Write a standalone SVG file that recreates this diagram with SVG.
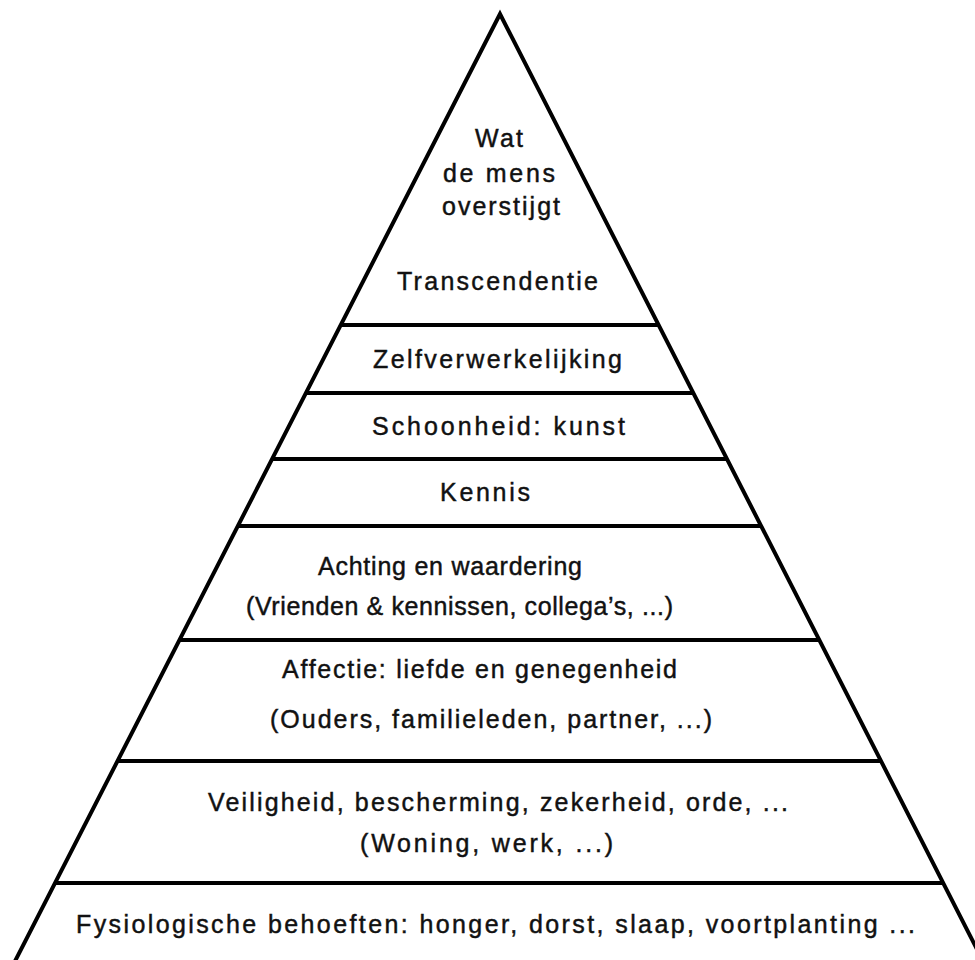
<svg xmlns="http://www.w3.org/2000/svg" width="975" height="960" viewBox="0 0 975 960">
<style>
.t{font-family:"Liberation Sans",Arial,sans-serif;font-size:25px;fill:#111;stroke:#111;stroke-width:0.45px;}
.ln{stroke:#000;stroke-width:4;fill:none;}
</style>
<rect width="975" height="960" fill="#fff"/>
<g id="outline">
<path class="ln" d="M14.6,962 L500,14 L983.5,962" stroke-linejoin="miter" stroke-miterlimit="20"/>
</g>
<g id="dividers">
<line class="ln" x1="340.8" y1="325" x2="658.6" y2="325"/>
<line class="ln" x1="306" y1="393" x2="693.3" y2="393"/>
<line class="ln" x1="272.2" y1="459" x2="727" y2="459"/>
<line class="ln" x1="237.9" y1="526" x2="761.1" y2="526"/>
<line class="ln" x1="179.5" y1="640" x2="819.3" y2="640"/>
<line class="ln" x1="117.5" y1="761" x2="881" y2="761"/>
<line class="ln" x1="55.1" y1="883" x2="943.2" y2="883"/>
</g>
<g id="tier-transcendentie">
<text class="t" x="475" y="147" textLength="48" lengthAdjust="spacing">Wat</text>
<text class="t" x="443" y="182" textLength="112" lengthAdjust="spacing">de mens</text>
<text class="t" x="442" y="215" textLength="118" lengthAdjust="spacing">overstijgt</text>
<text class="t" x="397" y="290" textLength="201" lengthAdjust="spacing">Transcendentie</text>
</g>
<g id="tier-zelfverwerkelijking">
<text class="t" x="373" y="368" textLength="249" lengthAdjust="spacing">Zelfverwerkelijking</text>
</g>
<g id="tier-schoonheid">
<text class="t" x="372" y="435" textLength="253" lengthAdjust="spacing">Schoonheid: kunst</text>
</g>
<g id="tier-kennis">
<text class="t" x="440" y="501" textLength="90" lengthAdjust="spacing">Kennis</text>
</g>
<g id="tier-achting">
<text class="t" x="318" y="575" textLength="264" lengthAdjust="spacing">Achting en waardering</text>
<text class="t" x="246" y="615" textLength="427" lengthAdjust="spacing">(Vrienden &amp; kennissen, collega’s, ...)</text>
</g>
<g id="tier-affectie">
<text class="t" x="282" y="678" textLength="395" lengthAdjust="spacing">Affectie: liefde en genegenheid</text>
<text class="t" x="270" y="728" textLength="442" lengthAdjust="spacing">(Ouders, familieleden, partner, ...)</text>
</g>
<g id="tier-veiligheid">
<text class="t" x="208" y="811" textLength="580" lengthAdjust="spacing">Veiligheid, bescherming, zekerheid, orde, ...</text>
<text class="t" x="360" y="852" textLength="253" lengthAdjust="spacing">(Woning, werk, ...)</text>
</g>
<g id="tier-fysiologisch">
<text class="t" x="76" y="933" textLength="839" lengthAdjust="spacing">Fysiologische behoeften: honger, dorst, slaap, voortplanting ...</text>
</g>
</svg>
